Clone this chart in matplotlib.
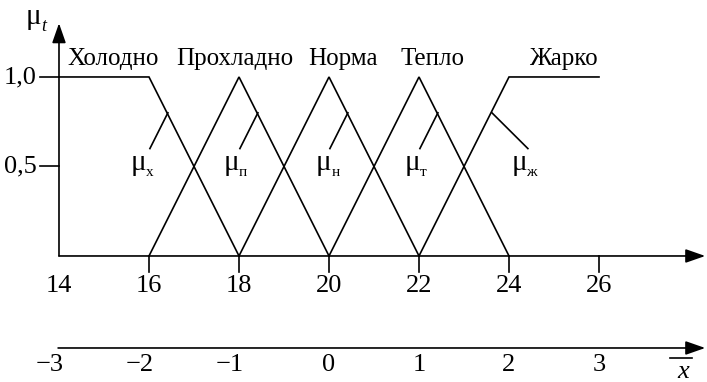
import matplotlib
matplotlib.use("Agg")
import matplotlib.pyplot as plt

plt.rcParams["font.family"] = ["Liberation Serif", "DejaVu Serif"]

# Шкала температуры и нормированная шкала
temp_ticks = [16, 18, 20, 22, 24, 26]
temp_labels = ["14", "16", "18", "20", "22", "24", "26"]
temp_label_pos = [14, 16, 18, 20, 22, 24, 26]
norm_labels = ["\u22123", "\u22122", "\u22121", "0", "1", "2", "3"]

# Термы и функции принадлежности
terms = ["Холодно", "Прохладно", "Норма", "Тепло", "Жарко"]
term_label_x = [15.2, 17.9, 20.3, 22.3, 25.2]
cold_x, cold_y = [14, 16, 18], [1, 1, 0]
cool_x, cool_y = [16, 18, 20], [0, 1, 0]
norm_x, norm_y = [18, 20, 22], [0, 1, 0]
warm_x, warm_y = [20, 22, 24], [0, 1, 0]
hot_x, hot_y = [22, 24, 26], [0, 1, 1]

mu_subs = ["х", "п", "н", "т", "ж"]
mu_x = [15.60, 17.66, 19.71, 21.68, 24.06]
lead_x0 = [16.02, 18.02, 20.02, 22.02, 24.42]
lead_x1 = [16.42, 18.42, 20.42, 22.42, 23.62]

y_ticks = [1.0, 0.5]
y_labels = ["1,0", "0,5"]

fig = plt.figure(figsize=(7.07, 3.82), dpi=100)
ax = fig.add_axes([0, 0, 1, 1])
ax.set_xlim(12.689, 28.4)
ax.set_ylim(-0.704, 1.430)
ax.axis("off")

lw = 1.2
fs = 18
nfs = 19
arrow = dict(arrowstyle="-|>,head_length=1.2,head_width=0.42", color="black",
             lw=lw, shrinkA=0, shrinkB=0)

# оси
ax.annotate("", xy=(14, 1.30), xytext=(14, 0), arrowprops=arrow)
ax.annotate("", xy=(28.36, 0), xytext=(14, 0), arrowprops=arrow)
ax.annotate("", xy=(28.36, -0.514), xytext=(13.98, -0.514), arrowprops=arrow)

# функции принадлежности
for xs, ys in [(cold_x, cold_y), (cool_x, cool_y), (norm_x, norm_y),
               (warm_x, warm_y), (hot_x, hot_y)]:
    ax.plot(xs, ys, color="black", lw=lw, solid_joinstyle="miter")

# деления оси y
for yv, lab in zip(y_ticks, y_labels):
    ax.plot([13.58, 14], [yv, yv], color="black", lw=lw)
    ax.text(13.5, yv, lab, ha="right", va="center", fontsize=nfs)

# деления оси x
for t in temp_ticks:
    ax.plot([t, t], [0, -0.089], color="black", lw=lw)
for p, lab in zip(temp_label_pos, temp_labels):
    ax.text(p, -0.165, lab, ha="center", va="center", fontsize=nfs)
for p, lab in zip(temp_label_pos, norm_labels):
    off = -0.2 if lab.startswith("\u2212") else 0
    ax.text(p + off, -0.61, lab, ha="center", va="center", fontsize=nfs)

# названия термов
for xc, name in zip(term_label_x, terms):
    ax.text(xc, 1.067, name, ha="center", va="baseline", fontsize=fs)

# метки мю с выносками
for xm, sub, a, b in zip(mu_x, mu_subs, lead_x0, lead_x1):
    ax.text(xm, 0.48, "μ", ha="left", va="baseline", fontsize=21)
    ax.text(xm + 0.34, 0.447, sub, ha="left", va="baseline", fontsize=11)
    ax.plot([a, b], [0.6, 0.8], color="black", lw=lw)

# подпись оси y
ax.text(13.25, 1.296, "μ", ha="left", va="baseline", fontsize=21)
ax.text(13.60, 1.257, "t", ha="left", va="baseline", fontsize=13, style="italic")

# подпись нормированной оси
ax.text(27.87, -0.68, "x", ha="center", va="baseline", fontsize=nfs, style="italic")
ax.plot([27.58, 28.07], [-0.570, -0.570], color="black", lw=lw)

fig.savefig("out.png", dpi=100)
